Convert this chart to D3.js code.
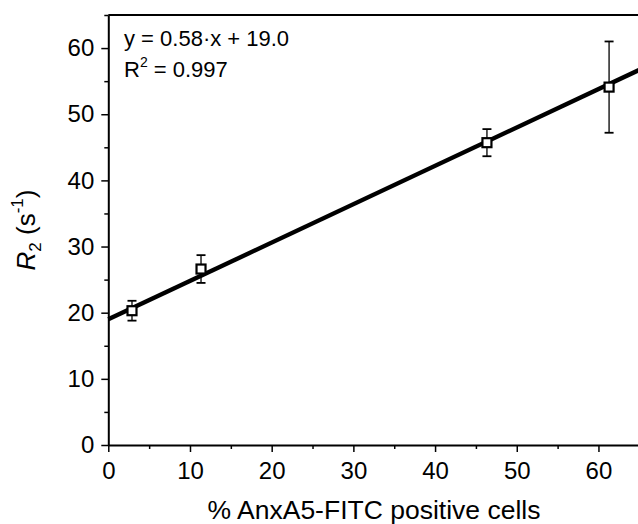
<!DOCTYPE html>
<html>
<head>
<meta charset="utf-8">
<script src="https://cdn.jsdelivr.net/npm/d3@7"></script>
<style>
  html, body { margin: 0; padding: 0; background: #fff; }
  svg { display: block; }
  text { font-family: "Liberation Sans", Arial, Helvetica, sans-serif; fill: #000; }
</style>
</head>
<body>
<svg id="chart" width="638" height="524"></svg>
<script>
// ---- data ----
const xValues = [2.9, 11.35, 46.35, 61.3];
const yValues = [20.3, 26.6, 45.7, 54.1];
const yErrors = [1.5, 2.1, 2.05, 6.9];
const fitSlope = 0.58;
const fitIntercept = 19.0;
const fitRange = [0, 65];
const xTicks = [0, 10, 20, 30, 40, 50, 60];
const xMinorTicks = [5, 15, 25, 35, 45, 55, 65];
const yTicks = [0, 10, 20, 30, 40, 50, 60];
const yMinorTicks = [5, 15, 25, 35, 45, 55, 65];
const equationText = "y = 0.58·x + 19.0";
const r2Value = "0.997";
const xTitle = "% AnxA5-FITC positive cells";

// ---- layout ----
const svg = d3.select("#chart");
const x = d3.scaleLinear().domain([0, 65]).range([108.3, 639.3]);
const y = d3.scaleLinear().domain([0, 65]).range([445, 15]);

// frame (top)
svg.append("line")
  .attr("x1", x(0)).attr("x2", x(65)).attr("y1", y(65)).attr("y2", y(65))
  .attr("stroke", "#000").attr("stroke-width", 2);

// bottom axis
svg.append("g").attr("transform", `translate(0,${y(0)})`)
  .call(d3.axisBottom(x).tickValues(xTicks).tickSize(7).tickPadding(10).tickSizeOuter(0));
svg.append("g").attr("transform", `translate(0,${y(0)})`)
  .call(d3.axisBottom(x).tickValues(xMinorTicks).tickSize(4).tickFormat("").tickSizeOuter(0))
  .select(".domain").remove();

// left axis
svg.append("g").attr("transform", `translate(${x(0)},0)`)
  .call(d3.axisLeft(y).tickValues(yTicks).tickSize(7).tickPadding(7).tickSizeOuter(0));
svg.append("g").attr("transform", `translate(${x(0)},0)`)
  .call(d3.axisLeft(y).tickValues(yMinorTicks).tickSize(4).tickFormat("").tickSizeOuter(0))
  .select(".domain").remove();

svg.selectAll(".domain").attr("stroke", "#000").attr("stroke-width", 2);
svg.selectAll(".tick line").attr("stroke", "#000").attr("stroke-width", 1.5);
svg.selectAll(".tick text").attr("font-size", 24)
  .attr("font-family", "'Liberation Sans', Arial, sans-serif").attr("fill", "#000");

// fit line
svg.append("line")
  .attr("x1", x(fitRange[0])).attr("y1", y(fitSlope * fitRange[0] + fitIntercept))
  .attr("x2", x(fitRange[1])).attr("y2", y(fitSlope * fitRange[1] + fitIntercept))
  .attr("stroke", "#000").attr("stroke-width", 4.4);

// error bars
const pts = xValues.map((v, i) => ({ x: v, y: yValues[i], e: yErrors[i] }));
const eb = svg.append("g");
pts.forEach(p => {
  eb.append("line").attr("x1", x(p.x)).attr("x2", x(p.x))
    .attr("y1", y(p.y + p.e)).attr("y2", y(p.y - p.e))
    .attr("stroke", "#000").attr("stroke-width", 1.3);
  [p.y + p.e, p.y - p.e].forEach(v => {
    eb.append("line").attr("x1", x(p.x) - 4.5).attr("x2", x(p.x) + 4.5)
      .attr("y1", y(v)).attr("y2", y(v))
      .attr("stroke", "#000").attr("stroke-width", 1.8);
  });
});

// markers
const s = 9;
svg.append("g").selectAll("rect").data(pts).join("rect")
  .attr("x", d => x(d.x) - s / 2).attr("y", d => y(d.y) - s / 2)
  .attr("width", s).attr("height", s)
  .attr("fill", "#fff").attr("stroke", "#000").attr("stroke-width", 2.2);

// annotation
svg.append("text").attr("x", 124).attr("y", 46).attr("font-size", 22).text(equationText);
const r2 = svg.append("text").attr("x", 124).attr("y", 77).attr("font-size", 22);
r2.append("tspan").text("R");
r2.append("tspan").attr("font-size", 14).attr("dy", -10).text("2");
r2.append("tspan").attr("dy", 10).text(" = " + r2Value);

// x title
svg.append("text").attr("x", 374).attr("y", 519).attr("text-anchor", "middle")
  .attr("font-size", 26.5).text(xTitle);

// y title
const yt = svg.append("text").attr("transform", `translate(35,${(y(0) + y(65)) / 2}) rotate(-90)`)
  .attr("text-anchor", "middle").attr("font-size", 26);
yt.append("tspan").attr("font-style", "italic").text("R");
yt.append("tspan").attr("font-size", 17).attr("dy", 6).text("2");
yt.append("tspan").attr("dy", -6).text(" (s");
yt.append("tspan").attr("font-size", 17).attr("dy", -12).text("-1");
yt.append("tspan").attr("dy", 12).text(")");
</script>
</body>
</html>
